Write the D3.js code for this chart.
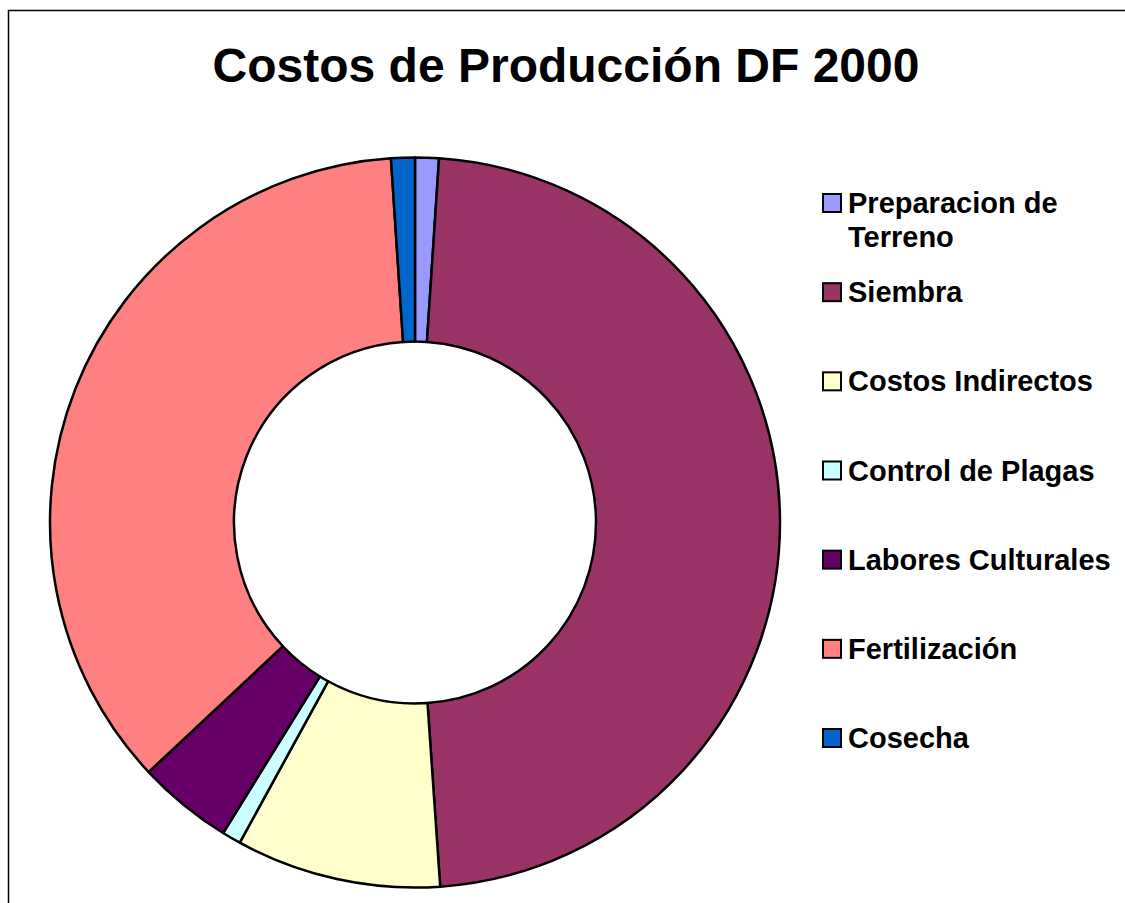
<!DOCTYPE html>
<html lang="es">
<head>
<meta charset="UTF-8">
<title>Costos de Producción DF 2000</title>
<style>
  body { margin: 0; background: #fff; }
  svg { display: block; }
</style>
</head>
<body>
<svg id="chart" width="1125" height="903"></svg>
<script src="https://d3js.org/d3.v7.min.js"></script>
<script>
// data (% of total)
const categories = ["Preparacion de Terreno", "Siembra", "Costos Indirectos", "Control de Plagas",
                    "Labores Culturales", "Fertilización", "Cosecha"];
const values = [1.05, 47.85, 9.07, 0.84, 4.21, 35.93, 1.05];
const colors = ["#9999FF", "#993366", "#FFFFCC", "#CCFFFF", "#660066", "#FF8080", "#0066CC"];
// legend labels as shown (wrapped)
const legendLines = [["Preparacion de", "Terreno"], ["Siembra"], ["Costos Indirectos"], ["Control de Plagas"],
                     ["Labores Culturales"], ["Fertilización"], ["Cosecha"]];

const svg = d3.select("#chart");
const font = "'Liberation Sans', Arial, sans-serif";

// chart frame
svg.append("rect")
  .attr("x", 8.5).attr("y", 10.5)
  .attr("width", 1125).attr("height", 903)
  .attr("fill", "#fff").attr("stroke", "#000").attr("stroke-width", 1.5);

svg.append("text")
  .attr("x", 566).attr("y", 82)
  .attr("text-anchor", "middle")
  .style("font-family", font).style("font-weight", "bold").style("font-size", "48px")
  .text("Costos de Producción DF 2000");

// donut
const cx = 415, cy = 522.5;
const pie = d3.pie().sort(null).value(d => d.v);
const arc = d3.arc().innerRadius(181).outerRadius(365);
const rows = categories.map((c, i) => ({ c, v: values[i], col: colors[i] }));

svg.append("g")
  .attr("transform", `translate(${cx},${cy})`)
  .selectAll("path")
  .data(pie(rows))
  .join("path")
    .attr("d", arc)
    .attr("fill", d => d.data.col)
    .attr("stroke", "#000").attr("stroke-width", 2.5).attr("stroke-linejoin", "round");

// legend
const legendY = d3.scalePoint().domain(categories).range([203, 738]);
const lg = svg.append("g").selectAll("g")
  .data(rows)
  .join("g")
    .attr("transform", d => `translate(822,${legendY(d.c)})`);

lg.append("rect")
  .attr("x", 1).attr("y", -9)
  .attr("width", 18).attr("height", 18)
  .attr("fill", d => d.col).attr("stroke", "#000").attr("stroke-width", 2);

lg.append("text")
  .style("font-family", font).style("font-weight", "bold").style("font-size", "29px")
  .selectAll("tspan")
  .data((d, i) => legendLines[i])
  .join("tspan")
    .attr("x", 26).attr("y", (d, j) => 10 + j * 34)
    .text(d => d);
</script>
</body>
</html>
